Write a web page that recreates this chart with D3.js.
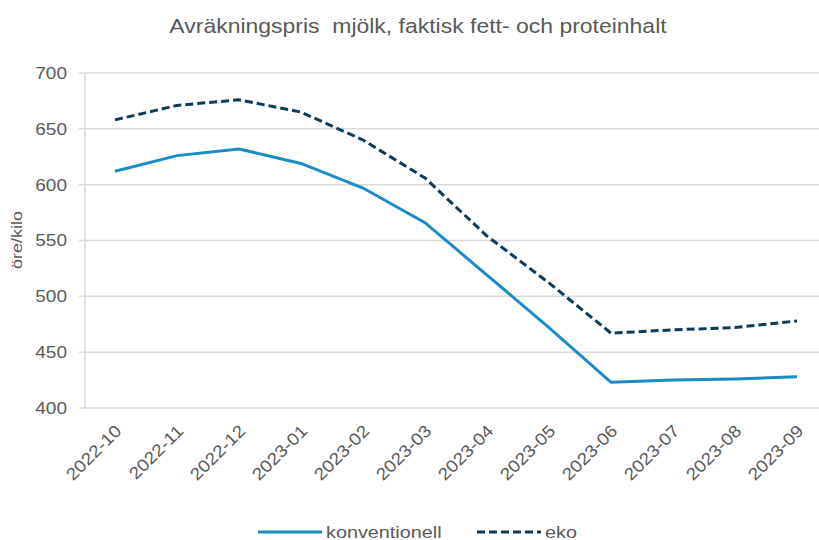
<!DOCTYPE html>
<html>
<head>
<meta charset="utf-8">
<script src="https://cdn.jsdelivr.net/npm/d3@7"></script>
<style>
  body { margin: 0; background: #fff; }
  text { font-family: "Liberation Sans", Arial, sans-serif; }
</style>
</head>
<body>
<div id="chart"></div>
<script>
var months = ["2022-10","2022-11","2022-12","2023-01","2023-02","2023-03",
              "2023-04","2023-05","2023-06","2023-07","2023-08","2023-09"];
var konventionell = [612, 626, 632, 619, 597, 566, 519, 472, 423, 425, 426, 428];
var eko = [658, 671, 676, 665, 640, 606, 554, 512, 467, 470, 472, 478];
var yTicks = [400, 450, 500, 550, 600, 650, 700];

var width = 819, height = 540;
var plotLeft = 84, plotRight = 828, plotTop = 73, plotBottom = 408;
var textColor = "#595959";

var svg = d3.select("#chart").append("svg")
  .attr("width", width).attr("height", height);

var x = d3.scalePoint().domain(months).range([plotLeft, plotRight]).padding(0.5);
var y = d3.scaleLinear().domain([400, 700]).range([plotBottom, plotTop]);

// the source font runs wider than Liberation, so stretch text a bit
function stretch(sel, k) {
  sel.each(function() {
    var len = this.getComputedTextLength();
    d3.select(this).attr("textLength", len * k).attr("lengthAdjust", "spacingAndGlyphs");
  });
}

// title
svg.append("text")
  .attr("x", 418).attr("y", 33)
  .attr("text-anchor", "middle")
  .attr("font-size", 20.5)
  .attr("fill", textColor)
  .style("white-space", "pre")
  .text("Avräkningspris  mjölk, faktisk fett- och proteinhalt")
  .call(stretch, 1.12);

// gridlines
svg.append("g").selectAll("line").data(yTicks).enter().append("line")
  .attr("x1", plotLeft - 5).attr("x2", width)
  .attr("y1", function(d) { return y(d); })
  .attr("y2", function(d) { return y(d); })
  .attr("stroke", "#d9d9d9").attr("stroke-width", 1.5);

// left axis line
svg.append("line")
  .attr("x1", plotLeft + 1).attr("x2", plotLeft + 1)
  .attr("y1", plotTop).attr("y2", plotBottom)
  .attr("stroke", "#d9d9d9").attr("stroke-width", 1.5);

// y tick labels
var yAxis = d3.axisLeft(y).tickValues(yTicks).tickSize(0).tickPadding(0);
var yg = svg.append("g").attr("transform", "translate(" + (plotLeft - 17) + ",0)").call(yAxis);
yg.select(".domain").remove();
yg.selectAll("text")
  .attr("font-size", 17).attr("fill", textColor)
  .style("font-family", "Liberation Sans, Arial, sans-serif")
  .call(stretch, 1.12);

svg.append("text")
  .attr("transform", "translate(22,240) rotate(-90)")
  .attr("text-anchor", "middle")
  .attr("font-size", 15)
  .attr("fill", textColor)
  .text("öre/kilo")
  .call(stretch, 1.2);

// x tick labels
var xAxis = d3.axisBottom(x).tickSize(0).tickPadding(0);
var xg = svg.append("g").attr("transform", "translate(0," + plotBottom + ")").call(xAxis);
xg.select(".domain").remove();
xg.selectAll("text")
  .attr("font-size", 17).attr("fill", textColor)
  .style("font-family", "Liberation Sans, Arial, sans-serif")
  .attr("text-anchor", "end")
  .attr("dy", null).attr("y", 0)
  .attr("transform", "translate(7,24) rotate(-45)")
  .call(stretch, 1.12);

// lines
var line = d3.line()
  .x(function(d, i) { return x(months[i]); })
  .y(function(d) { return y(d); });

svg.append("path").datum(konventionell)
  .attr("d", line).attr("fill", "none")
  .attr("stroke", "#1a8bc7").attr("stroke-width", 3);

svg.append("path").datum(eko)
  .attr("d", line).attr("fill", "none")
  .attr("stroke", "#0d3b5c").attr("stroke-width", 3)
  .attr("stroke-dasharray", "8,4");

// legend
var legend = [
  { name: "konventionell", color: "#1a8bc7", dash: null, x: 258 },
  { name: "eko", color: "#0d3b5c", dash: "8,4", x: 477 }
];
var lg = svg.append("g").selectAll("g").data(legend).enter().append("g")
  .attr("transform", function(d) { return "translate(" + d.x + ",532)"; });
lg.append("line")
  .attr("x1", 0).attr("x2", 64).attr("y1", 0).attr("y2", 0)
  .attr("stroke", function(d) { return d.color; })
  .attr("stroke-width", 3)
  .attr("stroke-dasharray", function(d) { return d.dash; });
lg.append("text")
  .attr("x", 68).attr("y", 6)
  .attr("font-size", 16.5).attr("fill", textColor)
  .text(function(d) { return d.name; })
  .call(stretch, 1.2);
</script>
</body>
</html>
